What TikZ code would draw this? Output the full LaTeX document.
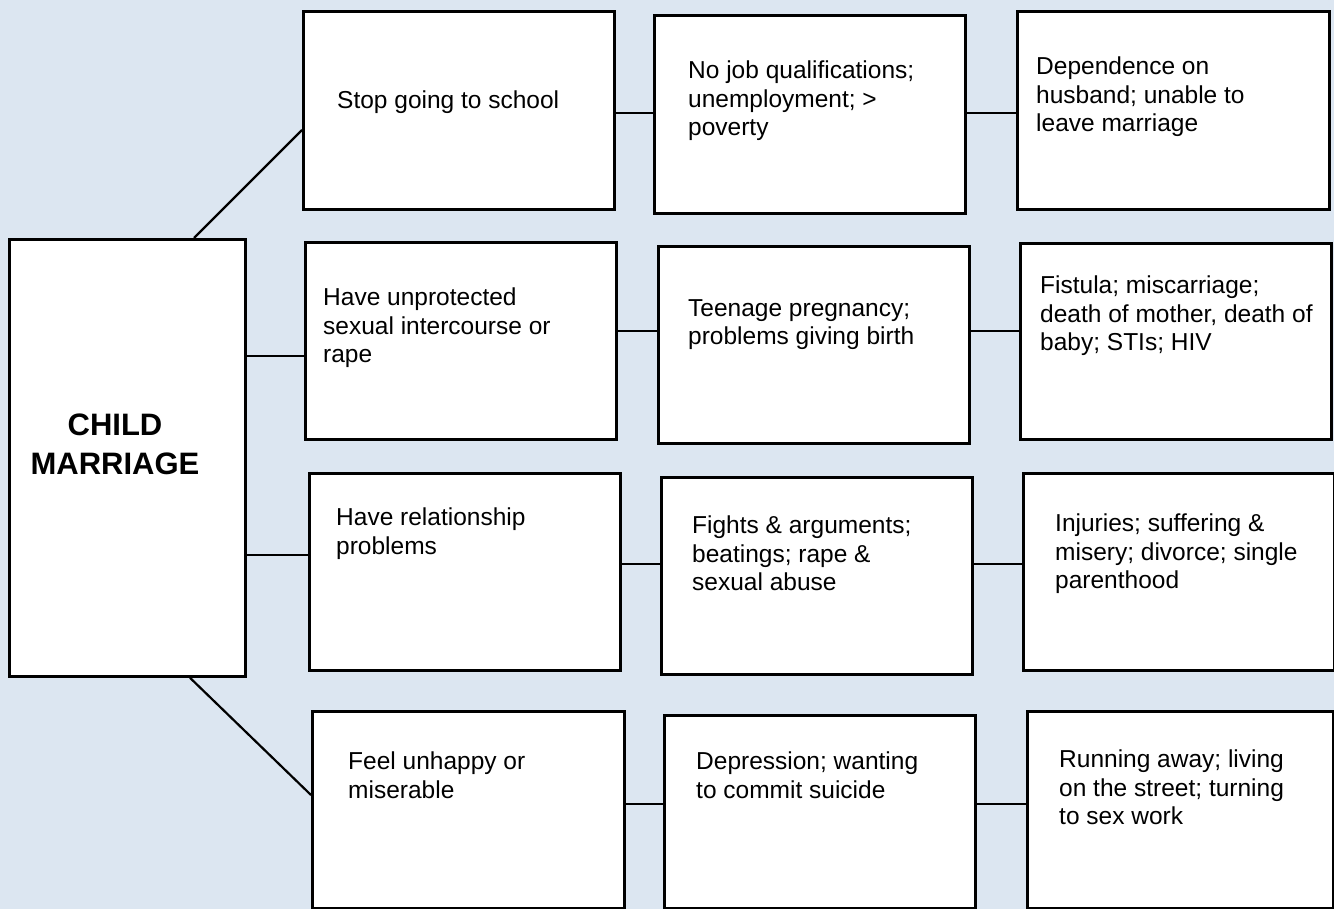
\documentclass[tikz,border=0pt]{standalone}
\usepackage{fontspec}
\setmainfont{Liberation Sans}
\usetikzlibrary{calc}
\definecolor{PanelBlue}{RGB}{220,230,241}
\tikzset{
  effectbox/.style={draw=black,fill=white,line width=2.8pt,inner sep=0pt,anchor=north west,minimum width=311pt,minimum height=197pt},
  effecttext/.style={anchor=north west,inner sep=0pt,align=left,font=\fontsize{24.5}{28.2}\selectfont},
  titletext/.style={anchor=north,inner sep=0pt,align=center,font=\bfseries\fontsize{31}{39}\selectfont},
  link/.style={draw=black,line width=2.2pt}
}

\begin{document}
\begin{tikzpicture}[x=1pt,y=-1pt]
\useasboundingbox (0,0) rectangle (1334,909);
\fill[PanelBlue] (0,0) rectangle (1334,909);

% centre box
\node[effectbox,minimum width=236pt,minimum height=437pt] (cm) at (8,238) {};
\node[titletext] (cmt) at (115,414) {CHILD\\MARRIAGE};

% first row
\node[effectbox,minimum height=198pt] (a1) at (302,10) {};
\node[effectbox,minimum height=198pt] (a2) at (653,14) {};
\node[effectbox,minimum width=312pt,minimum height=198pt] (a3) at (1016,10) {};
% second row
\node[effectbox] (b1) at (304,241) {};
\node[effectbox] (b2) at (657,245) {};
\node[effectbox,minimum height=196pt] (b3) at (1019,242) {};
% third row
\node[effectbox] (c1) at (308,472) {};
\node[effectbox] (c2) at (660,476) {};
\node[effectbox] (c3) at (1022,472) {};
% fourth row
\node[effectbox,minimum width=312pt] (d1) at (311,710) {};
\node[effectbox,minimum height=193pt] (d2) at (663,714) {};
\node[effectbox,minimum width=306pt] (d3) at (1026,710) {};

% texts
\node[effecttext] (a1t) at (337,91) {Stop going to school};
\node[effecttext] (a2t) at (688,61) {No job qualifications;\\unemployment; >\\poverty};
\node[effecttext] (a3t) at (1036,57) {Dependence on\\husband; unable to\\leave marriage};
\node[effecttext] (b1t) at (323,288) {Have unprotected\\sexual intercourse or\\rape};
\node[effecttext] (b2t) at (688,299) {Teenage pregnancy;\\problems giving birth};
\node[effecttext] (b3t) at (1040,276) {Fistula; miscarriage;\\death of mother, death of\\baby; STIs; HIV};
\node[effecttext] (c1t) at (336,508) {Have relationship\\problems};
\node[effecttext] (c2t) at (692,516) {Fights \& arguments;\\beatings; rape \&\\sexual abuse};
\node[effecttext] (c3t) at (1055,514) {Injuries; suffering \&\\misery; divorce; single\\parenthood};
\node[effecttext] (d1t) at (348,752) {Feel unhappy or\\miserable};
\node[effecttext] (d2t) at (696,752) {Depression; wanting\\to commit suicide};
\node[effecttext] (d3t) at (1059,750) {Running away; living\\on the street; turning\\to sex work};

% links from the centre
\draw[link] ($(cm.north west)+(186,0)$) -- ($(a1.north west)+(0,120)$);
\draw[link] (cm.east |- 0,356) -- (b1.west |- 0,356);
\draw[link] (cm.east |- 0,555) -- (c1.west |- 0,555);
\draw[link] ($(cm.south west)+(182,0)$) -- ($(d1.north west)+(0,85)$);

% links along the rows
\draw[link] (a1.east |- 0,113) -- (a2.west |- 0,113);
\draw[link] (a2.east |- 0,113) -- (a3.west |- 0,113);
\draw[link] (b1.east |- 0,331) -- (b2.west |- 0,331);
\draw[link] (b2.east |- 0,331) -- (b3.west |- 0,331);
\draw[link] (c1.east |- 0,564) -- (c2.west |- 0,564);
\draw[link] (c2.east |- 0,564) -- (c3.west |- 0,564);
\draw[link] (d1.east |- 0,804) -- (d2.west |- 0,804);
\draw[link] (d2.east |- 0,804) -- (d3.west |- 0,804);
\end{tikzpicture}
\end{document}
